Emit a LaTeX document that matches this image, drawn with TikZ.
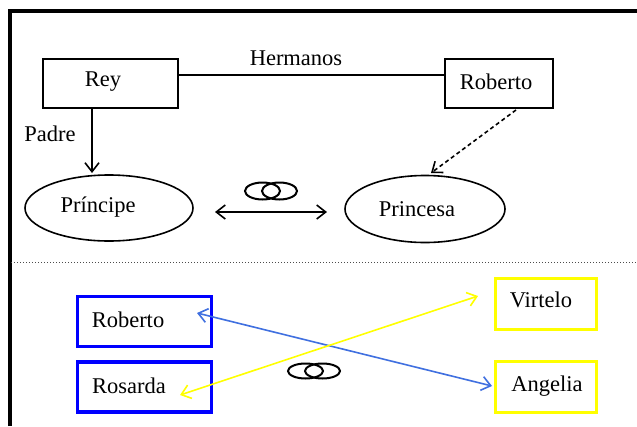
\documentclass[tikz,border=0pt]{standalone}
\usepackage{fontspec}
\setmainfont{Liberation Serif}
\usetikzlibrary{arrows.meta,shapes.geometric}
\definecolor{boxblue}{RGB}{0,0,255}
\definecolor{boxyellow}{RGB}{255,255,0}
\definecolor{lineblue}{RGB}{64,112,224}
\begin{document}
\begin{tikzpicture}[x=1pt,y=-1pt,
  every node/.style={font=\fontsize{22.5}{26}\selectfont},
  thinbox/.style={draw,line width=1.6pt,minimum width=135pt,minimum height=49pt,inner sep=0pt},
  oval/.style={draw,ellipse,line width=1.6pt,minimum width=168pt,minimum height=66pt,inner sep=0pt},
  bluebox/.style={draw=boxblue,line width=3.5pt,minimum width=134pt,minimum height=50pt,inner sep=0pt},
  yelbox/.style={draw=boxyellow,line width=3.5pt,minimum width=101pt,minimum height=51pt,inner sep=0pt},
  lbl/.style={inner sep=0pt,anchor=center},
  conn/.style={line width=1.6pt},
  tip/.style={-{Straight Barb[length=9pt,width=14pt]}},
  rings/.style={line width=2pt}
]
\useasboundingbox (0,0) rectangle (637,426);
\fill[white] (0,0) rectangle (637,426);
% frame
\draw[line width=3.5pt] (10,426) -- (10,11) -- (637,11);
\draw[line width=1pt,dotted,gray!60!black] (11,262) -- (637,262);

% top part
\node[thinbox] (rey) at (110.5,83.5) {};
\node[lbl] (reyt) at (103,82) {Rey};
\node[thinbox,minimum width=108pt] (rob) at (499,83.5) {};
\node[lbl] (robt) at (496,82) {Roberto};
\node[lbl] (herm) at (296,58) {Hermanos};
\node[lbl] (padre) at (50,134) {Padre};
\node[oval] (prin) at (109,208) {};
\node[lbl] (print) at (98,207) {Príncipe};
\node[oval,minimum width=160pt,minimum height=67pt] (pesa) at (425,209) {};
\node[lbl] (pesat) at (417,209) {Princesa};

\draw[conn] (rey.east |- 0,75) -- (rob.west |- 0,75);
\coordinate (padtop) at (92,108);
\coordinate (padbot) at (92,173);
\draw[conn,tip] (padtop) -- (padbot);
\coordinate (dasha) at (516,110);
\coordinate (dashb) at (431,173);
\draw[conn,dashed,dash pattern=on 4pt off 3pt,tip] (dasha) -- (dashb);
\coordinate (mla) at (215,212);
\coordinate (mlb) at (327,212);
\draw[conn,{Straight Barb[length=9pt,width=14pt]}-{Straight Barb[length=9pt,width=14pt]}] (mla) -- (mlb);
\draw[rings] (262.5,191) ellipse (17.5pt and 8.5pt);
\draw[rings] (279.5,191) ellipse (17.5pt and 8.5pt);

% bottom part
\node[bluebox] (rob2) at (144.5,321.5) {};
\node[lbl] (rob2t) at (128,320) {Roberto};
\node[bluebox] (ros) at (144.5,387) {};
\node[lbl] (rost) at (129,386) {Rosarda};
\node[yelbox] (vir) at (546,304) {};
\node[lbl] (virt) at (541,300) {Virtelo};
\node[yelbox] (ang) at (546,387) {};
\node[lbl] (angt) at (547,386) {Angelia};

\coordinate (ba) at (197,313);
\coordinate (bb) at (492,386);
\coordinate (ya) at (180,395);
\coordinate (yb) at (478,296);
\draw[conn,lineblue,{Straight Barb[length=9pt,width=14pt]}-{Straight Barb[length=9pt,width=14pt]}] (ba) -- (bb);
\draw[conn,boxyellow,{Straight Barb[length=9pt,width=14pt]}-{Straight Barb[length=9pt,width=14pt]}] (ya) -- (yb);
\draw[rings] (305.5,371) ellipse (17.5pt and 7.5pt);
\draw[rings] (322.5,371) ellipse (17.5pt and 7.5pt);
\end{tikzpicture}
\end{document}
